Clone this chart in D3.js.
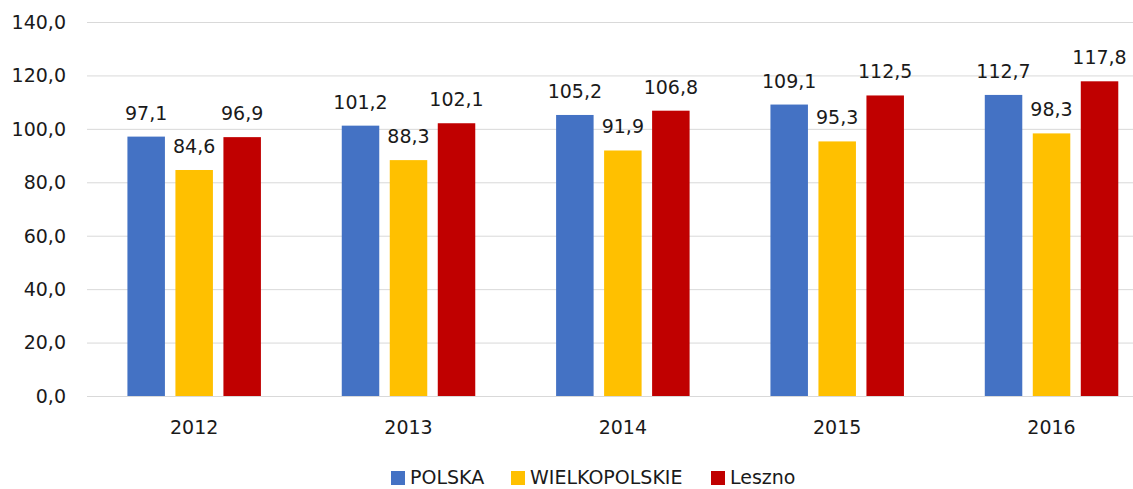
<!DOCTYPE html>
<html><head><meta charset="utf-8">
<script src="https://cdn.jsdelivr.net/npm/d3@7"></script>
<style>body{margin:0;background:#fff;overflow:hidden}svg{display:block}</style>
</head><body><svg id="c" width="1133" height="489"></svg>
<script>
const categories = ["2012","2013","2014","2015","2016"];
const seriesNames = ["POLSKA","WIELKOPOLSKIE","Leszno"];
const polska = [97.1,101.2,105.2,109.1,112.7];
const wielkopolskie = [84.6,88.3,91.9,95.3,98.3];
const leszno = [96.9,102.1,106.8,112.5,117.8];
const yTicks = [0,20,40,60,80,100,120,140];
const colors = ["#4472C4","#FFC000","#C00000"];

const series = [polska, wielkopolskie, leszno];
const svg = d3.select("#c");
const font = "DejaVu Sans";
const fmt = v => v.toFixed(1).replace(".", ",");

const x = d3.scaleBand().domain(categories).range([87, 1158.7]).paddingInner(0).paddingOuter(0);
const y = d3.scaleLinear().domain([0,140]).range([396,22]);
const barW = 37.5, gap = 10.5;
const groupW = 3*barW + 2*gap;

// grid
svg.append("g").selectAll("line").data(yTicks).join("line")
  .attr("x1", 87).attr("x2", 1133)
  .attr("y1", d => y(d)+0.5).attr("y2", d => y(d)+0.5)
  .attr("stroke", "#d9d9d9").attr("stroke-width", 1);

// y labels
svg.append("g").selectAll("text").data(yTicks).join("text")
  .attr("x", 66).attr("y", d => y(d)).attr("dy", "0.36em")
  .attr("text-anchor", "end").attr("font-family", font).attr("font-size", 19)
  .attr("fill", "#1a1a1a").text(d => fmt(d));

// bars
series.forEach((vals, si) => {
  const g = svg.append("g");
  const bx = (c) => x(c) + x.bandwidth()/2 - groupW/2 + si*(barW+gap);
  g.selectAll("rect").data(categories).join("rect")
    .attr("x", (c) => bx(c)).attr("width", barW)
    .attr("y", (c,i) => y(vals[i])).attr("height", (c,i) => y(0)-y(vals[i]))
    .attr("fill", colors[si]);
  g.selectAll("text").data(categories).join("text")
    .attr("x", c => bx(c) + barW/2).attr("y", (c,i) => y(vals[i]) - 17)
    .attr("text-anchor", "middle").attr("font-family", font).attr("font-size", 19)
    .attr("fill", "#1a1a1a").text((c,i) => fmt(vals[i]));
});

// x labels
svg.append("g").selectAll("text").data(categories).join("text")
  .attr("x", c => x(c) + x.bandwidth()/2).attr("y", 434)
  .attr("text-anchor", "middle").attr("font-family", font).attr("font-size", 19)
  .attr("fill", "#1a1a1a").text(c => c);

// legend
const legX = [391, 511, 711];
const lg = svg.append("g");
seriesNames.forEach((n, i) => {
  lg.append("rect").attr("x", legX[i]).attr("y", 471).attr("width", 14).attr("height", 14).attr("fill", colors[i]);
  lg.append("text").attr("x", legX[i] + 19).attr("y", 484)
    .attr("font-family", font).attr("font-size", 19).attr("fill", "#1a1a1a").text(n);
});
</script></body></html>
